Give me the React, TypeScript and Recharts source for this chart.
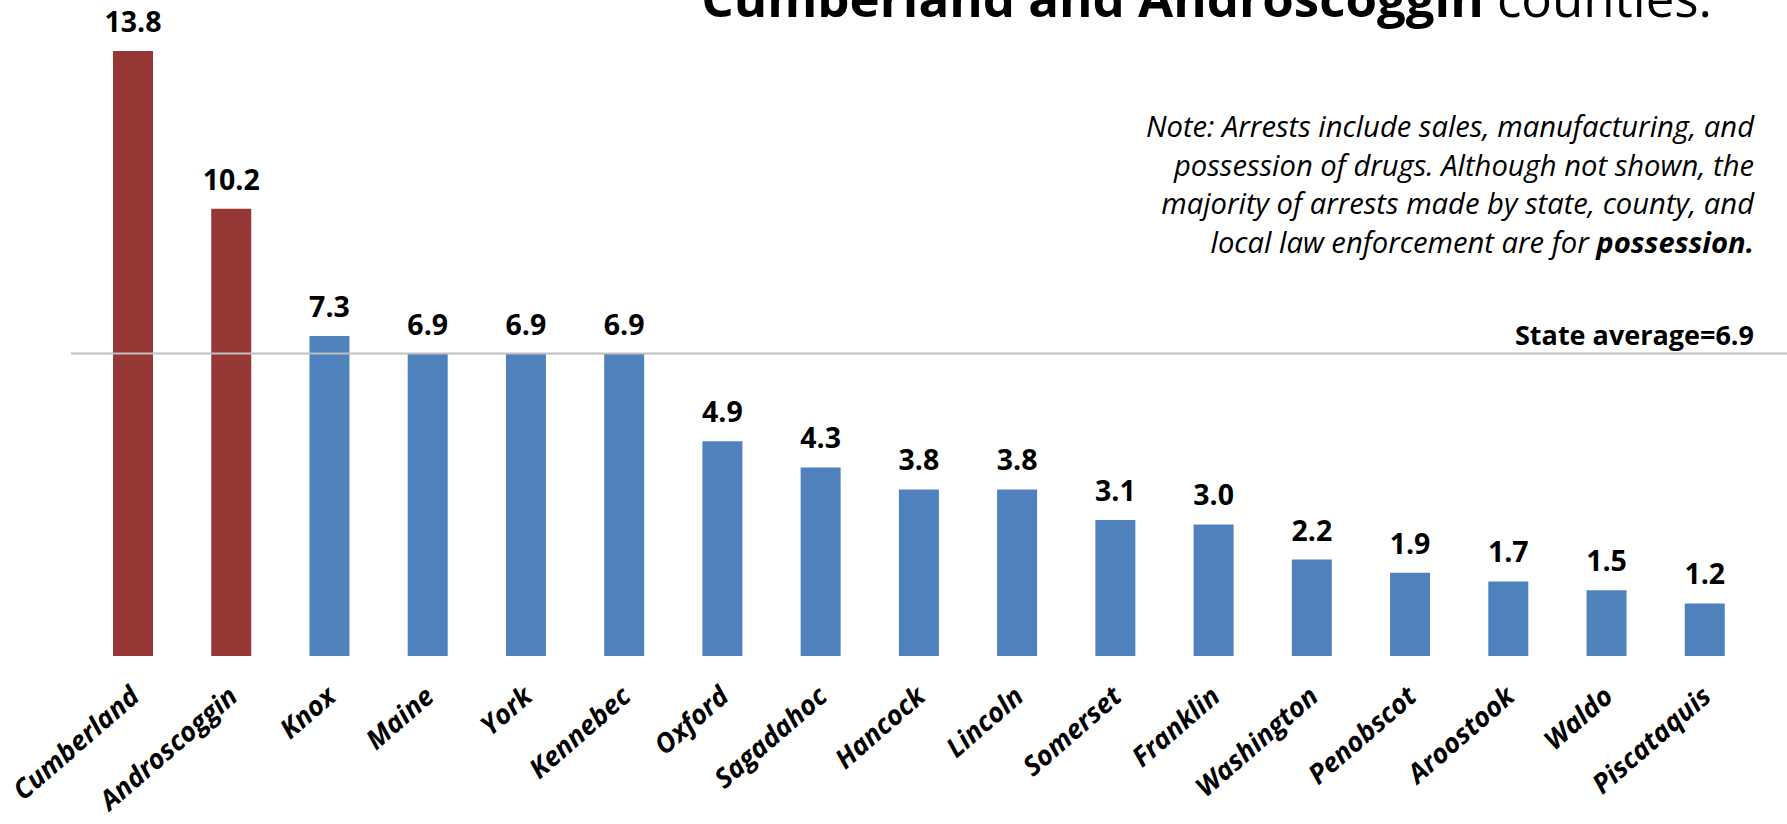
import { BarChart, Bar, XAxis, YAxis, Cell, LabelList, ReferenceLine } from "recharts";

const counties = [
  "Cumberland", "Androscoggin", "Knox", "Maine", "York", "Kennebec", "Oxford", "Sagadahoc", "Hancock",
  "Lincoln", "Somerset", "Franklin", "Washington", "Penobscot", "Aroostook", "Waldo", "Piscataquis",
];
const arrestRates = [13.8, 10.2, 7.3, 6.9, 6.9, 6.9, 4.9, 4.3, 3.8, 3.8, 3.1, 3.0, 2.2, 1.9, 1.7, 1.5, 1.2];
const highlighted = ["Cumberland", "Androscoggin"];
const stateAverage = 6.9;
const noteLines = [
  "Note: Arrests include sales, manufacturing, and",
  "possession of drugs. Although not shown, the",
  "majority of arrests made by state, county, and",
];

const data = counties.map((county, i) => ({ county, rate: arrestRates[i] }));

const RED = "#953735";
const BLUE = "#4F81BD";
const FONT = "'Open Sans', sans-serif";

function CountyTick({ x, y, payload }: any) {
  return (
    <text
      x={x + 8}
      y={y + 35}
      transform={`rotate(-41, ${x + 8}, ${y + 35})`}
      textAnchor="end"
      fontFamily={FONT}
      fontSize={27}
      fontWeight="bold"
      fontStyle="italic"
      fill="#000"
    >
      {payload.value}
    </text>
  );
}

export default function App() {
  return (
    <div style={{ position: "absolute", left: 0, top: 0, width: 1787, height: 824, background: "#fff" }}>
      <svg width={1787} height={300} style={{ position: "absolute", left: 0, top: 0 }}>
        <text x={1712} y={17} textAnchor="end" fontFamily={FONT} fontSize={51} fill="#000">
          <tspan fontWeight="bold">Cumberland and Androscoggin</tspan>
          <tspan> counties.</tspan>
        </text>
        {noteLines.map((line, i) => (
          <text
            key={i}
            x={1754}
            y={137 + i * 38.7}
            textAnchor="end"
            fontFamily={FONT}
            fontSize={29.2}
            fontStyle="italic"
            fill="#000"
          >
            {line}
          </text>
        ))}
        <text x={1754} y={137 + 3 * 38.7} textAnchor="end" fontFamily={FONT} fontSize={29.2} fontStyle="italic" fill="#000">
          <tspan>local law enforcement are for </tspan>
          <tspan fontWeight="bold">possession.</tspan>
        </text>
      </svg>
      <BarChart
        width={1787}
        height={824}
        data={data}
        margin={{ top: 51, right: 33, left: 84, bottom: 0 }}
        style={{ position: "absolute", left: 0, top: 0 }}
      >
        <YAxis hide domain={[0, 13.8]} />
        <XAxis
          dataKey="county"
          height={168}
          axisLine={false}
          tickLine={false}
          interval={0}
          tick={<CountyTick />}
        />
        <ReferenceLine
          y={stateAverage}
          ifOverflow="visible"
          shape={(p: any) => (
            <line x1={71} x2={1787} y1={p.y1} y2={p.y2} stroke="#BFBFBF" strokeWidth={2} />
          )}
          label={(p: any) => (
            <text
              x={p.viewBox.x + p.viewBox.width}
              y={p.viewBox.y - 9}
              textAnchor="end"
              fontFamily={FONT}
              fontSize={27}
              fontWeight="bold"
              fill="#000"
            >
              {`State average=${stateAverage}`}
            </text>
          )}
        />
        <Bar dataKey="rate" barSize={40} isAnimationActive={false}>
          {data.map((d, i) => (
            <Cell key={i} fill={highlighted.includes(d.county) ? RED : BLUE} />
          ))}
          <LabelList
            dataKey="rate"
            position="top"
            offset={19}
            formatter={(v: any) => Number(v).toFixed(1)}
            style={{ fontFamily: FONT, fontSize: 28.5, fontWeight: "bold", fill: "#000" }}
          />
        </Bar>
      </BarChart>
    </div>
  );
}
